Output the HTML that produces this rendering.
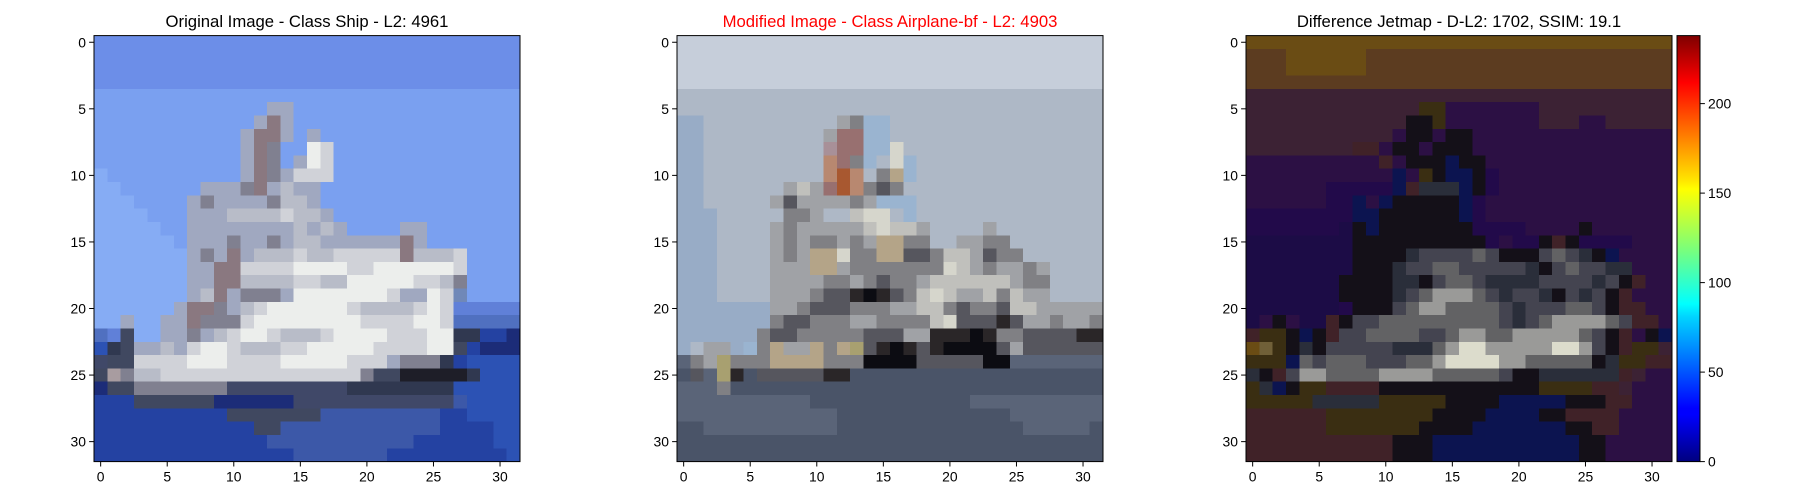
<!DOCTYPE html>
<html><head><meta charset="utf-8"><style>
html,body{margin:0;padding:0;background:#fff;}
svg{display:block;font-family:"Liberation Sans","DejaVu Sans",sans-serif;}
</style></head><body>
<svg id="fig" width="1800" height="500" viewBox="0 0 1800 500" xmlns="http://www.w3.org/2000/svg">
<defs>
<linearGradient id="jet" x1="0" y1="1" x2="0" y2="0">
<stop offset="0" stop-color="#00007f"/><stop offset="0.11" stop-color="#0000ff"/>
<stop offset="0.125" stop-color="#0000ff"/><stop offset="0.34" stop-color="#00d4ff"/>
<stop offset="0.37" stop-color="#00ffff"/><stop offset="0.5" stop-color="#7cff79"/>
<stop offset="0.64" stop-color="#ffff00"/><stop offset="0.66" stop-color="#ffe600"/>
<stop offset="0.89" stop-color="#ff0000"/><stop offset="1" stop-color="#7f0000"/>
</linearGradient>
</defs>
</svg>
<script>
const img1Palette={A:"#6c8ee8",B:"#7aa0f0",C:"#86acf4",g:"#a0a8c0",G:"#b8bcc8",h:"#d0d2d8",w:"#eceeec",d:"#808090",t:"#a89ca0",T:"#8a7880",k:"#404860",x:"#1e1e28",e:"#303850",n:"#2442a2",m:"#2c52b4",N:"#1c2c78",M:"#3c58a8",q:"#404868",P:"#7088b8",Q:"#6080d8",R:"#5070c0"};
const img1Rows=[
"AAAAAAAAAAAAAAAAAAAAAAAAAAAAAAAA","AAAAAAAAAAAAAAAAAAAAAAAAAAAAAAAA","AAAAAAAAAAAAAAAAAAAAAAAAAAAAAAAA","AAAAAAAAAAAAAAAAAAAAAAAAAAAAAAAA",
"BBBBBBBBBBBBBBBBBBBBBBBBBBBBBBBB","BBBBBBBBBBBBBggBBBBBBBBBBBBBBBBB","BBBBBBBBBBBBgTgBBBBBBBBBBBBBBBBB","BBBBBBBBBBBgTTgBgBBBBBBBBBBBBBBB",
"BBBBBBBBBBBgTdBBwhBBBBBBBBBBBBBB","BBBBBBBBBBBgTdBgwhBBBBBBBBBBBBBB","CBBBBBBBBBBgTdghhhBBBBBBBBBBBBBB","CCBBBBBBgggdTgGggBBBBBBBBBBBBBBB",
"CCCBBBBgdggggdGGgBBBBBBBBBBBBBBB","CCCCBBBgggGGGGhGGgBBBBBBBBBBBBBB","CCCCCBBggggggggGgGgBBBBggBBBBBBB","CCCCCCBgggdggdgGGggggggTgBBBBBBB",
"CCCCCCCgdgTgGGGhGGhhhhhTGGGhBBBB","CCCCCCCggTThhhhwwwwhhwwwwwwhBBBB","CCCCCCCggTTGGGGhhGGwwwwwhhGdBBBB","CCCCCCCgGTgdddgwwwwwwwhggwhPBBBB",
"CCCCCCgTTdgGhwwwwwwhGGGGhwhQQQQQ","CCgCCggTdddhwwwwwwwwhhhhwwhRRRRR","RQkCCggdgGhwwhGGGhwwwwhhhwweennNN","mekggGghwwhGGGhhwwwwwhhhhwwknNNN",
"qkkhhhhwwwhhhhwwwwwhhhgdddenmmmm","ktdGGhhhhhhhhhhhhhhhdkkxxxxxemmm","Nkkdddddddqqqqqqqqqeeeeeeeemmmmm","nnnkkkkkkNNNNNNqqqqqqqqqqqqMmmmm",
"nnnnnnnnnnkkkkkkkMMMMMMMMMnnmmmm","nnnnnnnnnnnnkkMMMMMMMMMMMMnnnnmm","nnnnnnnnnnnnnMMMMMMMMMMMnnnnnnmm","nnnnnnnnnnnnnnnMMMMMMMnnnnnnnnnm"];
const img2Palette={S:"#c6ceda",s:"#aeb8c6",L:"#98acc6",b:"#9ab4d0",g:"#a0a2a6",G:"#c0c0bc",d:"#808084",D:"#56565e",x:"#2a2628",X:"#0c0c12",o:"#a85830",O:"#b88870",T:"#987070",p:"#a89098",t:"#b4a488",y:"#a8a070",W:"#d6d6cc",v:"#5a6478",V:"#4a5468"};
const img2Rows=[
"SSSSSSSSSSSSSSSSSSSSSSSSSSSSSSSS","SSSSSSSSSSSSSSSSSSSSSSSSSSSSSSSS","SSSSSSSSSSSSSSSSSSSSSSSSSSSSSSSS","SSSSSSSSSSSSSSSSSSSSSSSSSSSSSSSS",
"ssssssssssssssssssssssssssssssss","ssssssssssssssssssssssssssssssss","LLssssssssssgdbbssssssssssssssss","LLsssssssssgTTbbssssssssssssssss",
"LLssssssssspTTbbWsssssssssssssss","LLsssssssssOTdbsWbssssssssssssss","LLsssssssssOoOsdtbssssssssssssss","LLssssssgGgToOdDdsssssssssssssss",
"LLsssssgDggggdgbbbssssssssssssss","LLLsssssddgssGWWsbssssssssssssss","LLLssssgdgggggGWGGgssssgssssssss","LLLssssgdgddgdgttddssggddsssssss",
"LLLssssgdgttWddttDDdGGgDddssssss","LLLssssgggttgdddddddWGgdggdgssss","LLLssssggggddgdDddgGGGGGGgddssss","LLLssssgggdDDxXxDdGWGggGdGggssss",
"LLLLLLLggdDDDdddggGGdDddDGGggggg","LLLLLLLdDDdddggddddGWDDDxDggdggd","LLLLLLdDDdddddDDDggxxxXxddDDDDxx","LsggLbdtggtdtyDxXxDxXXXXDgDDDDDD",
"vdgydddttttdddXXXXDDDDDXXvvvvvvv","VDvyxVDDDDDxxVVVVVVVVVVVVVVVVVVV","vvvdVVVVVVVVVVVVVVVVVVVVVVVVVVVV","vvvvvvvvvvVVVVVVVVVVVVvvvvvvvvvv",
"vvvvvvvvvvvvVVVVVVVVVVVVVvvvvvvv","VVvvvvvvvvvvVVVVVVVVVVVVVVvvvvvV","VVVVVVVVVVVVVVVVVVVVVVVVVVVVVVVV","VVVVVVVVVVVVVVVVVVVVVVVVVVVVVVVV"];
const img3Palette={Y:"#6a4c14",B:"#5c3c20",P:"#3c2234",p:"#2c1044",q:"#220a4a",n:"#1c0c46",k:"#141018",g:"#626264",G:"#9a9a98",W:"#dcdccc",d:"#444450",e:"#2a2e3a",o:"#3a2e12",N:"#0c1450",r:"#402228",y:"#706038"};
const img3Rows=[
"YYYYYYYYYYYYYYYYYYYYYYYYYYYYYYYY","BBBYYYYYYBBBBBBBBBBBBBBBBBBBBBBB","BBBYYYYYYBBBBBBBBBBBBBBBBBBBBBBB","BBBBBBBBBBBBBBBBBBBBBBBBBBBBBBBB",
"PPPPPPPPPPPPPPPPPPPPPPPPPPPPPPPP","PPPPPPPPPPPPPoopppppppPPPPPPPPPP","PPPPPPPPPPPPkkopppppppPPPppPPPPP","PPPPPPPPPPPpkkpkkppppppppppppppp",
"PPPPPPPPrrpkkpkkkppppppppppppppp","pppppppppprpkkkNkkpppppppppppppp","pppppppppppNpokNNkqppppppppppppp","ppppppqqqqqNreeeNkqppppppppppppp",
"ppppppqqNpNkkkkkNqpppppppppppppp","qqqqqqqqNNkkkkkkNqpppppppppppppp","qqqqqqqnkNkkkkkkkqqqqppppkpppppp","nnnnnnnnkkkkkkkkkkqpqqkrkqqqqppp",
"nnnnnnnnkkkkeddddgdkkkdgdekNpppp","nnnnnnnnkkkeddggdddddekdgddeeppp","nnnnnnnkkkkeekdggdeeeeddddedkrpp","nnnnnnnkkkkedgGGGgdeddekdedkrppp",
"nnnnnnnqkkkdgGGggggdedddggdkrrpp","npkpnnrkddgggggggggdedgGGGGgdrrp","rookNkrddggggddgGGggGGGGGgdkrpkN","YyokekdddddeeegGWWGGGGGWWGdkrooP",
"oooNgdgggdddggGWWWWGGgggggkeoorr","ekrdGGggggGGGGgggggdkkeeeeeerPpp","oeNkoorrrrkkkkkkkkkkkkoooorrPppp","oooooeeeeeoooookkkkNNNNNkkkrrppp",
"rrrrrrooooooookkkkNNNNkkrrrrpppp","rrrrrroooooookkkkNNNNNNNkkrrpppp","rrrrrrrrrrrkkkNNNNNNNNNNNkkppppp","rrrrrrrrrrrkkkNNNNNNNNNNNkkppppp"];
const axisTicks=[0,5,10,15,20,25,30];
const colorbarTicks=[0,50,100,150,200];
const colorbarMax=238;
const titles=["Original Image - Class Ship - L2: 4961","Modified Image - Class Airplane-bf - L2: 4903","Difference Jetmap - D-L2: 1702, SSIM: 19.1"];
const titleColors=["#000","#ff0000","#000"];

const NS="http://www.w3.org/2000/svg";
const svg=document.getElementById("fig");
function mk(tag,attrs,parent){const e=document.createElementNS(NS,tag);for(const k in attrs)e.setAttribute(k,attrs[k]);(parent||svg).appendChild(e);return e;}
const panels=[{x:94,rows:img1Rows,pal:img1Palette,name:"original-image"},{x:677,rows:img2Rows,pal:img2Palette,name:"modified-image"},{x:1246,rows:img3Rows,pal:img3Palette,name:"difference-jetmap"}];
const AX_TOP=35.6,AX_SIZE=426;
panels.forEach((p,pi)=>{
  const g=mk("g",{});
  
  
  const cell=AX_SIZE/32;
  const xs=v=>p.x+(v+0.5)*cell, ys=v=>AX_TOP+(v+0.5)*cell;
  const ig=mk("g",{"shape-rendering":"crispEdges"},g);
  
  
  for(let r=0;r<32;r++){
    let row=(p.rows[r]||"").slice(0,32);
    while(row.length<32)row+=row[row.length-1];
    for(let c=0;c<32;c++){
      mk("rect",{x:(p.x+c*cell).toFixed(2),y:(AX_TOP+r*cell).toFixed(2),width:(cell+0.6).toFixed(2),height:(cell+0.6).toFixed(2),fill:p.pal[row[c]]||"#888"},ig);
    }
  }
  const frame=mk("rect",{x:p.x,y:AX_TOP,width:AX_SIZE,height:AX_SIZE,fill:"none",stroke:"#000","stroke-width":1},g);
  
  
  axisTicks.forEach(t=>{
    const X=xs(t);
    mk("line",{x1:X,x2:X,y1:AX_TOP+AX_SIZE,y2:AX_TOP+AX_SIZE+4.9,stroke:"#000","stroke-width":1},g);
    const tx=mk("text",{x:X,y:AX_TOP+AX_SIZE+20,"font-size":"13.9","text-anchor":"middle",fill:"#000"},g);
    tx.textContent=t;
    
    
    const Y=ys(t);
    mk("line",{x1:p.x-4.9,x2:p.x,y1:Y,y2:Y,stroke:"#000","stroke-width":1},g);
    const ty=mk("text",{x:p.x-8,y:Y+5,"font-size":"13.9","text-anchor":"end",fill:"#000"},g);
    ty.textContent=t;
    
    
  });
  const tt=mk("text",{x:p.x+AX_SIZE/2,y:27,"font-size":"16.7","text-anchor":"middle",fill:titleColors[pi]},g);
  tt.textContent=titles[pi];
  
  
});
const cb=mk("g",{});


const CBX=1677,CBW=23,CBT=35.6,CBB=461.6;
const cbY=v=>CBB-(v/colorbarMax)*(CBB-CBT);
mk("rect",{x:CBX,y:CBT,width:CBW,height:CBB-CBT,fill:"url(#jet)",stroke:"#000","stroke-width":1},cb);
colorbarTicks.forEach(t=>{
  const Y=cbY(t);
  mk("line",{x1:CBX+CBW,x2:CBX+CBW+4.9,y1:Y,y2:Y,stroke:"#000","stroke-width":1},cb);
  const tx=mk("text",{x:CBX+CBW+8,y:Y+5,"font-size":"13.9",fill:"#000"},cb);
  tx.textContent=t;
  
  
});
</script>
</body></html>
